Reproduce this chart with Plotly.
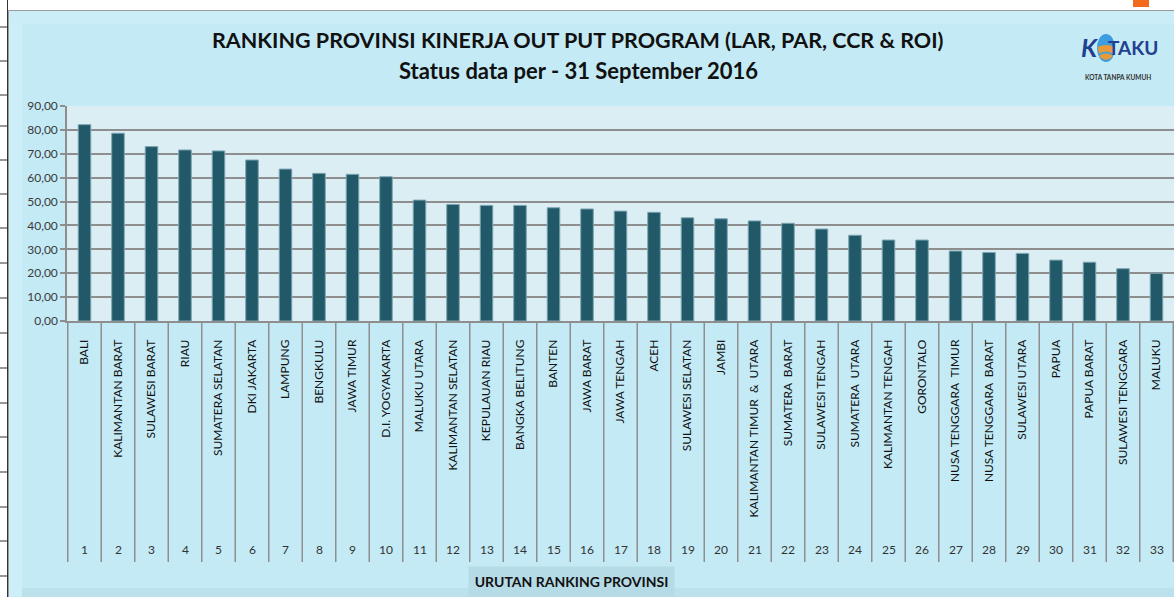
import plotly.graph_objects as go

# ---------------- data ----------------
provinces = [
    "BALI", "KALIMANTAN BARAT", "SULAWESI BARAT", "RIAU", "SUMATERA SELATAN",
    "DKI JAKARTA", "LAMPUNG", "BENGKULU", "JAWA TIMUR", "D.I. YOGYAKARTA",
    "MALUKU UTARA", "KALIMANTAN SELATAN", "KEPULAUAN RIAU", "BANGKA BELITUNG",
    "BANTEN", "JAWA BARAT", "JAWA TENGAH", "ACEH", "SULAWESI SELATAN", "JAMBI",
    "KALIMANTAN TIMUR\u00a0 &\u00a0 UTARA", "SUMATERA\u00a0 BARAT", "SULAWESI TENGAH",
    "SUMATERA\u00a0 UTARA", "KALIMANTAN TENGAH", "GORONTALO",
    "NUSA TENGGARA\u00a0 TIMUR", "NUSA TENGGARA\u00a0 BARAT", "SULAWESI UTARA",
    "PAPUA", "PAPUA BARAT", "SULAWESI TENGGARA", "MALUKU",
]
ranks = [1, 2, 3, 4, 5, 6, 7, 8, 9, 10, 11, 12, 13, 14, 15, 16, 17, 18, 19, 20,
         21, 22, 23, 24, 25, 26, 27, 28, 29, 30, 31, 32, 33]
values = [82.2, 78.6, 73.0, 71.6, 71.2, 67.4, 63.6, 61.8, 61.4, 60.4,
          50.6, 48.8, 48.4, 48.4, 47.4, 46.9, 46.0, 45.5, 43.2, 42.8,
          41.9, 40.9, 38.5, 35.9, 33.9, 33.9, 29.3, 28.7, 28.3, 25.5,
          24.6, 21.9, 20.0]
title_line1 = "RANKING PROVINSI KINERJA OUT PUT PROGRAM (LAR, PAR, CCR & ROI)"
title_line2 = "Status data per - 31 September 2016"
x_title = "URUTAN RANKING PROVINSI"

# ---------------- layout geometry ----------------
WIDTH, HEIGHT = 1174, 597
L, R, T, B = 67, 1174, 106, 321
PW, PH = R - L, B - T


def px_x(px):
    return (px - L) / PW


def px_y(py):
    return (B - py) / PH


FONT = "Lato"
BAR = "#215968"
GRID = "#8e8e8e"
CHART_BG = "#c4eaf5"
PLOT_BG = "#dbeef4"

fig = go.Figure()
fig.add_trace(go.Bar(
    x=provinces, y=values,
    marker=dict(color=BAR, line=dict(color="#7ea6b3", width=1)),
    hoverinfo="x+y",
))

shapes = []
# white sheet strips (top / left)
shapes.append(dict(type="rect", xref="paper", yref="paper", layer="below",
                   x0=px_x(0), x1=px_x(WIDTH), y0=px_y(0), y1=px_y(10),
                   fillcolor="white", line=dict(width=0)))
shapes.append(dict(type="rect", xref="paper", yref="paper", layer="below",
                   x0=px_x(0), x1=px_x(8), y0=px_y(0), y1=px_y(HEIGHT),
                   fillcolor="white", line=dict(width=0)))
# subtle bevel bands
shapes.append(dict(type="rect", xref="paper", yref="paper", layer="below",
                   x0=px_x(9), x1=px_x(22), y0=px_y(11), y1=px_y(HEIGHT),
                   fillcolor="#cbeef8", line=dict(width=0)))
shapes.append(dict(type="rect", xref="paper", yref="paper", layer="below",
                   x0=px_x(9), x1=px_x(WIDTH), y0=px_y(11), y1=px_y(24),
                   fillcolor="#caedf8", line=dict(width=0)))
shapes.append(dict(type="rect", xref="paper", yref="paper", layer="below",
                   x0=px_x(22), x1=px_x(WIDTH), y0=px_y(588), y1=px_y(HEIGHT),
                   fillcolor="#bbe1ec", line=dict(width=0)))
# sheet lines
shapes.append(dict(type="line", xref="paper", yref="paper", layer="below",
                   x0=px_x(7.5), x1=px_x(7.5), y0=px_y(0), y1=px_y(HEIGHT),
                   line=dict(color="#333333", width=1)))
for ry in [27, 61, 95, 126, 160, 194, 228, 263, 298, 333, 368, 403, 437,
           472, 507, 541, 576]:
    shapes.append(dict(type="line", xref="paper", yref="paper", layer="below",
                       x0=px_x(0), x1=px_x(7), y0=px_y(ry), y1=px_y(ry),
                       line=dict(color="#333333", width=1)))
# chart border
shapes.append(dict(type="line", xref="paper", yref="paper", layer="below",
                   x0=px_x(8.5), x1=px_x(WIDTH), y0=px_y(10.5), y1=px_y(10.5),
                   line=dict(color="#9a9a9a", width=1)))
shapes.append(dict(type="line", xref="paper", yref="paper", layer="below",
                   x0=px_x(8.5), x1=px_x(8.5), y0=px_y(10.5), y1=px_y(HEIGHT),
                   line=dict(color="#9a9a9a", width=1)))
# orange tab top right
shapes.append(dict(type="rect", xref="paper", yref="paper", layer="below",
                   x0=px_x(1133), x1=px_x(1149), y0=px_y(0), y1=px_y(7),
                   fillcolor="#f26b1d", line=dict(width=0)))
# category dividers below the axis
for i in range(len(provinces) + 1):
    shapes.append(dict(type="line", xref="x", yref="paper", layer="above",
                       x0=i - 0.5, x1=i - 0.5, y0=0, y1=px_y(562),
                       line=dict(color=GRID, width=1.5)))
# logo "O"
shapes.append(dict(type="circle", xref="paper", yref="paper", layer="below",
                   x0=px_x(1097), x1=px_x(1115), y0=px_y(34), y1=px_y(62),
                   fillcolor="#3d9de0", line=dict(width=0)))
shapes.append(dict(type="path", xref="paper", yref="paper", layer="below",
                   path=("M {a},{b} Q {c},{d} {e},{b} L {f},{g} Q {c},{h} {i},{g} Z").format(
                       a=px_x(1097.5), b=px_y(47), c=px_x(1106), d=px_y(43),
                       e=px_x(1114.5), f=px_x(1112), g=px_y(57), h=px_y(63),
                       i=px_x(1100)),
                   fillcolor="#e79a3a", line=dict(width=0)))
shapes.append(dict(type="path", xref="paper", yref="paper", layer="below",
                   path=("M {a},{b} Q {c},{d} {e},{b}").format(
                       a=px_x(1098.5), b=px_y(55), c=px_x(1106), d=px_y(50),
                       e=px_x(1113.5)),
                   line=dict(color="#4aa0d8", width=2)))


def ann(text, px, py, size, color="#111111", **kw):
    d = dict(text=text, x=px_x(px), y=px_y(py), xref="paper", yref="paper",
             xanchor="center", yanchor="middle", showarrow=False,
             font=dict(family=FONT, size=size, color=color))
    d.update(kw)
    return d


annotations = [
    ann("<b>" + title_line1 + "</b>", 578, 40, 21.5),
    ann("<b>" + title_line2 + "</b>", 578, 71, 22),
    ann("<b>" + x_title + "</b>", 571, 581, 14, width=203, height=27,
        bgcolor="#b5dbe7"),
    ann("<b><i>K</i></b>", 1090, 47, 25, color="#22408f"),
    ann("<b>TAKU</b>", 1133, 47, 19, color="#22408f"),
    ann("<b>KOTA TANPA KUMUH</b>", 1118, 78, 6.5, color="#333333"),
]
for p, r in zip(provinces, ranks):
    annotations.append(dict(text=str(r), x=p, xref="x", y=px_y(549),
                            yref="paper", xanchor="center", yanchor="middle",
                            showarrow=False,
                            font=dict(family=FONT, size=12, color="#333333")))

fig.update_layout(
    width=WIDTH, height=HEIGHT,
    margin=dict(l=L, r=WIDTH - R, t=T, b=HEIGHT - B, pad=0),
    paper_bgcolor=CHART_BG, plot_bgcolor=PLOT_BG,
    separators=",.",
    showlegend=False,
    bargap=0.625,
    font=dict(family=FONT),
    shapes=shapes,
    annotations=annotations,
    xaxis=dict(type="category", tickangle=-90, showgrid=False,
               showline=True, linecolor=GRID, linewidth=1.5,
               ticks="", ticklabelstandoff=12,
               tickfont=dict(family=FONT, size=12, color="#111111"),
               fixedrange=True),
    yaxis=dict(range=[0, 90], dtick=10, tickformat=".2f",
               showgrid=True, gridcolor=GRID, gridwidth=1.5,
               showline=True, linecolor=GRID, linewidth=1.5,
               ticks="outside", ticklen=5, tickcolor=GRID, tickwidth=1.5,
               zeroline=False,
               tickfont=dict(family=FONT, size=12, color="#3a3a3a"),
               fixedrange=True),
)

fig.write_html("out.html", config={"displayModeBar": False},
               post_script="document.body.style.margin='0';"
                           "document.body.style.overflow='hidden';")
